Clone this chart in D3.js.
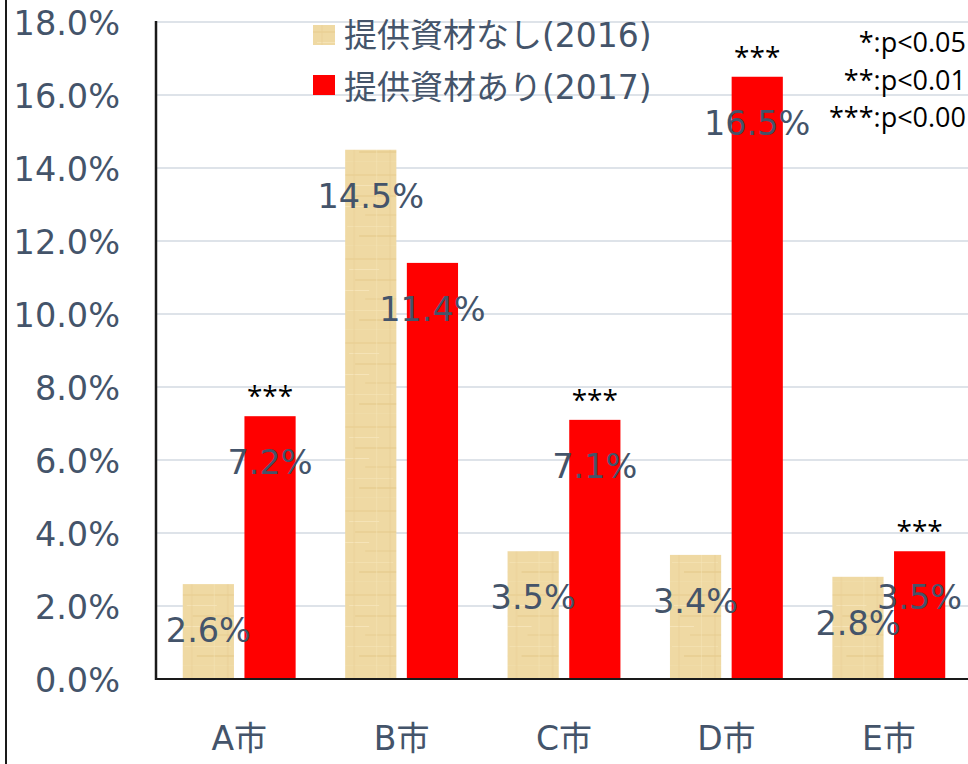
<!DOCTYPE html>
<html>
<head>
<meta charset="utf-8">
<script src="https://cdn.jsdelivr.net/npm/d3@7"></script>
<style>
  html, body { margin: 0; padding: 0; background: #fff; overflow: hidden; }
  svg { display: block; }
</style>
</head>
<body>
<svg id="chart" width="968" height="764"></svg>
<script>
// ---- data ----
const categories = ["A市", "B市", "C市", "D市", "E市"];
const seriesNames = ["提供資材なし(2016)", "提供資材あり(2017)"];
const values2016 = [2.6, 14.5, 3.5, 3.4, 2.8];
const values2017 = [7.2, 11.4, 7.1, 16.5, 3.5];
const significance2017 = ["***", "", "***", "***", "***"];
const yTicks = [0, 2, 4, 6, 8, 10, 12, 14, 16, 18];
const notes = ["*:p<0.05", "**:p<0.01", "***:p<0.00"];

// ---- layout ----
const W = 968, H = 764;
const plot = { left: 156, right: 970, top: 22, bottom: 679 };
const labelColor = "#44546A";
const latinFont = "'DejaVu Sans', 'Noto Sans CJK JP', sans-serif";
const noteFont = "'Open Sans', 'Noto Sans', sans-serif";

const svg = d3.select("#chart");

// parchment texture pattern
const defs = svg.append("defs");
const pat = defs.append("pattern")
  .attr("id", "parchment")
  .attr("patternUnits", "userSpaceOnUse")
  .attr("width", 52).attr("height", 84);
pat.append("rect").attr("width", 52).attr("height", 84).attr("fill", "#EFD9A3");
const streaks = [
  [0, 6, 52, 2, "#E6CB8E", 0.55], [4, 17, 30, 1, "#F6E6BA", 0.8],
  [10, 27, 42, 2, "#E4C88A", 0.45], [0, 38, 24, 1, "#F7E7BD", 0.8],
  [20, 46, 32, 2, "#E8CD92", 0.5], [2, 58, 46, 1, "#F5E3B4", 0.7],
  [14, 67, 38, 2, "#E3C686", 0.45], [0, 77, 52, 1, "#F2DEAA", 0.7],
  [8, 0, 2, 84, "#E8CF95", 0.35], [31, 0, 1, 84, "#F5E5B8", 0.5],
  [44, 0, 2, 84, "#E6CB8F", 0.3]
];
streaks.forEach(s => pat.append("rect")
  .attr("x", s[0]).attr("y", s[1]).attr("width", s[2]).attr("height", s[3])
  .attr("fill", s[4]).attr("opacity", s[5]));

const seriesFill = ["url(#parchment)", "#FF0000"];

// scales
const x0 = d3.scaleBand().domain(categories).range([plot.left + 2, plot.right]).padding(0);
const groupW = x0.bandwidth() * 0.695;
const x1 = d3.scaleBand().domain([0, 1]).range([0, groupW]).paddingInner(0.17);
const y = d3.scaleLinear().domain([0, 18]).range([plot.bottom, plot.top]);

// left frame line
svg.append("line").attr("x1", 6).attr("x2", 6).attr("y1", 0).attr("y2", H)
  .attr("stroke", "#1a1a1a").attr("stroke-width", 2);

// gridlines
svg.append("g").selectAll("line").data(yTicks.filter(t => t > 0)).join("line")
  .attr("x1", plot.left).attr("x2", W)
  .attr("y1", d => y(d)).attr("y2", d => y(d))
  .attr("stroke", "#DEE3E9").attr("stroke-width", 2);

// y axis tick labels
const yAxis = d3.axisLeft(y).tickValues(yTicks).tickSize(0).tickPadding(0)
  .tickFormat(d => d3.format(".1f")(d) + "%");
const yg = svg.append("g").attr("transform", `translate(120,0)`).call(yAxis);
yg.select(".domain").remove();
yg.selectAll("text")
  .attr("fill", labelColor).attr("font-family", latinFont).attr("font-size", 33.5)
  .attr("dy", "0.36em").attr("text-anchor", "end");

// bars
const rows = categories.map((c, i) => ({ cat: c, vals: [values2016[i], values2017[i]], sig: significance2017[i] }));
const groups = svg.append("g").selectAll("g").data(rows).join("g")
  .attr("transform", d => `translate(${x0(d.cat) + (x0.bandwidth() - groupW) / 2},0)`);

groups.selectAll("rect").data(d => d.vals.map((v, k) => ({ v, k }))).join("rect")
  .attr("x", d => x1(d.k)).attr("width", x1.bandwidth())
  .attr("y", d => y(d.v)).attr("height", d => y(0) - y(d.v))
  .attr("fill", d => seriesFill[d.k]);

// axis lines
svg.append("line").attr("x1", plot.left).attr("x2", plot.left)
  .attr("y1", plot.top - 1).attr("y2", plot.bottom + 1)
  .attr("stroke", "#1a1a1a").attr("stroke-width", 2.5);
svg.append("line").attr("x1", plot.left).attr("x2", W)
  .attr("y1", plot.bottom).attr("y2", plot.bottom)
  .attr("stroke", "#1a1a1a").attr("stroke-width", 2);

// value labels
groups.selectAll("text.val").data(d => d.vals.map((v, k) => ({ v, k }))).join("text")
  .attr("class", "val")
  .attr("x", d => x1(d.k) + x1.bandwidth() / 2)
  .attr("y", d => y(d.v) + 58)
  .attr("text-anchor", "middle")
  .attr("fill", labelColor).attr("font-family", latinFont).attr("font-size", 33.5)
  .text(d => d3.format(".1f")(d.v) + "%");

// significance stars
groups.append("text")
  .attr("x", x1(1) + x1.bandwidth() / 2)
  .attr("y", d => y(d.vals[1]) - 10)
  .attr("text-anchor", "middle")
  .attr("fill", "#000").attr("font-family", noteFont).attr("font-size", 28)
  .text(d => d.sig);

// x axis labels
const xAxis = d3.axisBottom(x0).tickSize(0).tickPadding(0);
const xg = svg.append("g").attr("transform", `translate(0,${plot.bottom})`).call(xAxis);
xg.select(".domain").remove();
xg.selectAll("text")
  .attr("fill", labelColor).attr("font-family", latinFont).attr("font-size", 33)
  .attr("dy", 0).attr("y", 71);

// legend
const legend = svg.append("g").selectAll("g").data(seriesNames).join("g")
  .attr("transform", (d, i) => `translate(313,${25 + i * 50})`);
legend.append("rect").attr("width", 22).attr("height", 20)
  .attr("fill", (d, i) => seriesFill[i]);
legend.append("text").attr("x", 31).attr("y", 22 + 0)
  .attr("dy", (d, i) => i * 1.5)
  .attr("fill", labelColor).attr("font-family", latinFont).attr("font-size", 33)
  .text(d => d);

// notes (top right)
svg.append("g").selectAll("text").data(notes).join("text")
  .attr("x", 966)
  .attr("y", (d, i) => 52 + i * 37.5)
  .attr("text-anchor", "end")
  .attr("fill", "#000").attr("font-family", noteFont).attr("font-size", 27)
  .text(d => d);
</script>
</body>
</html>
